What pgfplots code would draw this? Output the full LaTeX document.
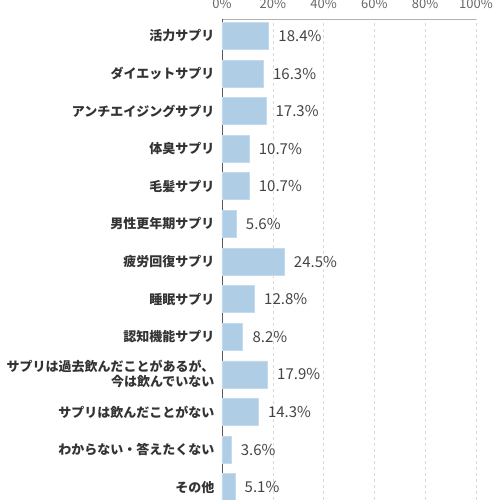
\documentclass[border=0pt]{standalone}
\usepackage{pgfplots}
\pgfplotsset{compat=1.18}
\usepackage{fontspec}
\setmainfont{Noto Sans CJK JP}
\definecolor{barblue}{HTML}{B0CDE6}
\definecolor{baredge}{HTML}{C4DAEE}
\definecolor{labgray}{HTML}{333333}
\definecolor{valgray}{HTML}{444444}
\definecolor{tickgray}{HTML}{666666}

\begin{document}
\begin{tikzpicture}
\begin{axis}[
  at={(0,0)}, anchor=north west,
  scale only axis,
  width=254pt, height=487pt,
  xbar, bar width=27pt,
  xmin=0, xmax=100,
  ymin=-0.5, ymax=12.452,
  axis x line*=top, axis y line*=left,
  x axis line style={-, draw=black!30},
  y axis line style={-, draw=black!65},
  xtick={0,20,40,60,80,100},
  xticklabel={\pgfmathprintnumber{\tick}\%},
  /pgf/number format/assume math mode=true,
  xticklabel style={font=\fontsize{13}{15}\selectfont, text=tickgray, yshift=7pt},
  major tick length=0pt,
  xmajorgrids, grid style={dashed, black!15},
  ytick={0,...,12},
  yticklabels={その他, わからない・答えたくない, サプリは飲んだことがない,
    {サプリは過去飲んだことがあるが、\\今は飲んでいない},
    認知機能サプリ, 睡眠サプリ, 疲労回復サプリ, 男性更年期サプリ,
    毛髪サプリ, 体臭サプリ, アンチエイジングサプリ, ダイエットサプリ, 活力サプリ},
  yticklabel style={font=\bfseries\fontsize{13}{15}\selectfont, text=labgray, align=right, xshift=-4pt},
  nodes near coords={\pgfmathprintnumber[fixed,precision=1,fixed zerofill]{\pgfplotspointmeta}\%},
  nodes near coords style={font=\fontsize{15}{17}\selectfont, text=valgray, anchor=west, xshift=6pt},
  point meta=explicit,
  clip=false,
]
\addplot[fill=barblue, draw=baredge, line width=0.8pt] coordinates {
  (5.1,0) [5.1]
  (3.6,1) [3.6]
  (14.3,2) [14.3]
  (17.9,3) [17.9]
  (8.2,4) [8.2]
  (12.8,5) [12.8]
  (24.5,6) [24.5]
  (5.6,7) [5.6]
  (10.7,8) [10.7]
  (10.7,9) [10.7]
  (17.3,10) [17.3]
  (16.3,11) [16.3]
  (18.4,12) [18.4]
};
\end{axis}
\pgfresetboundingbox
\path[use as bounding box] (-222pt,19pt) rectangle (278pt,-481pt);
\end{tikzpicture}
\end{document}
